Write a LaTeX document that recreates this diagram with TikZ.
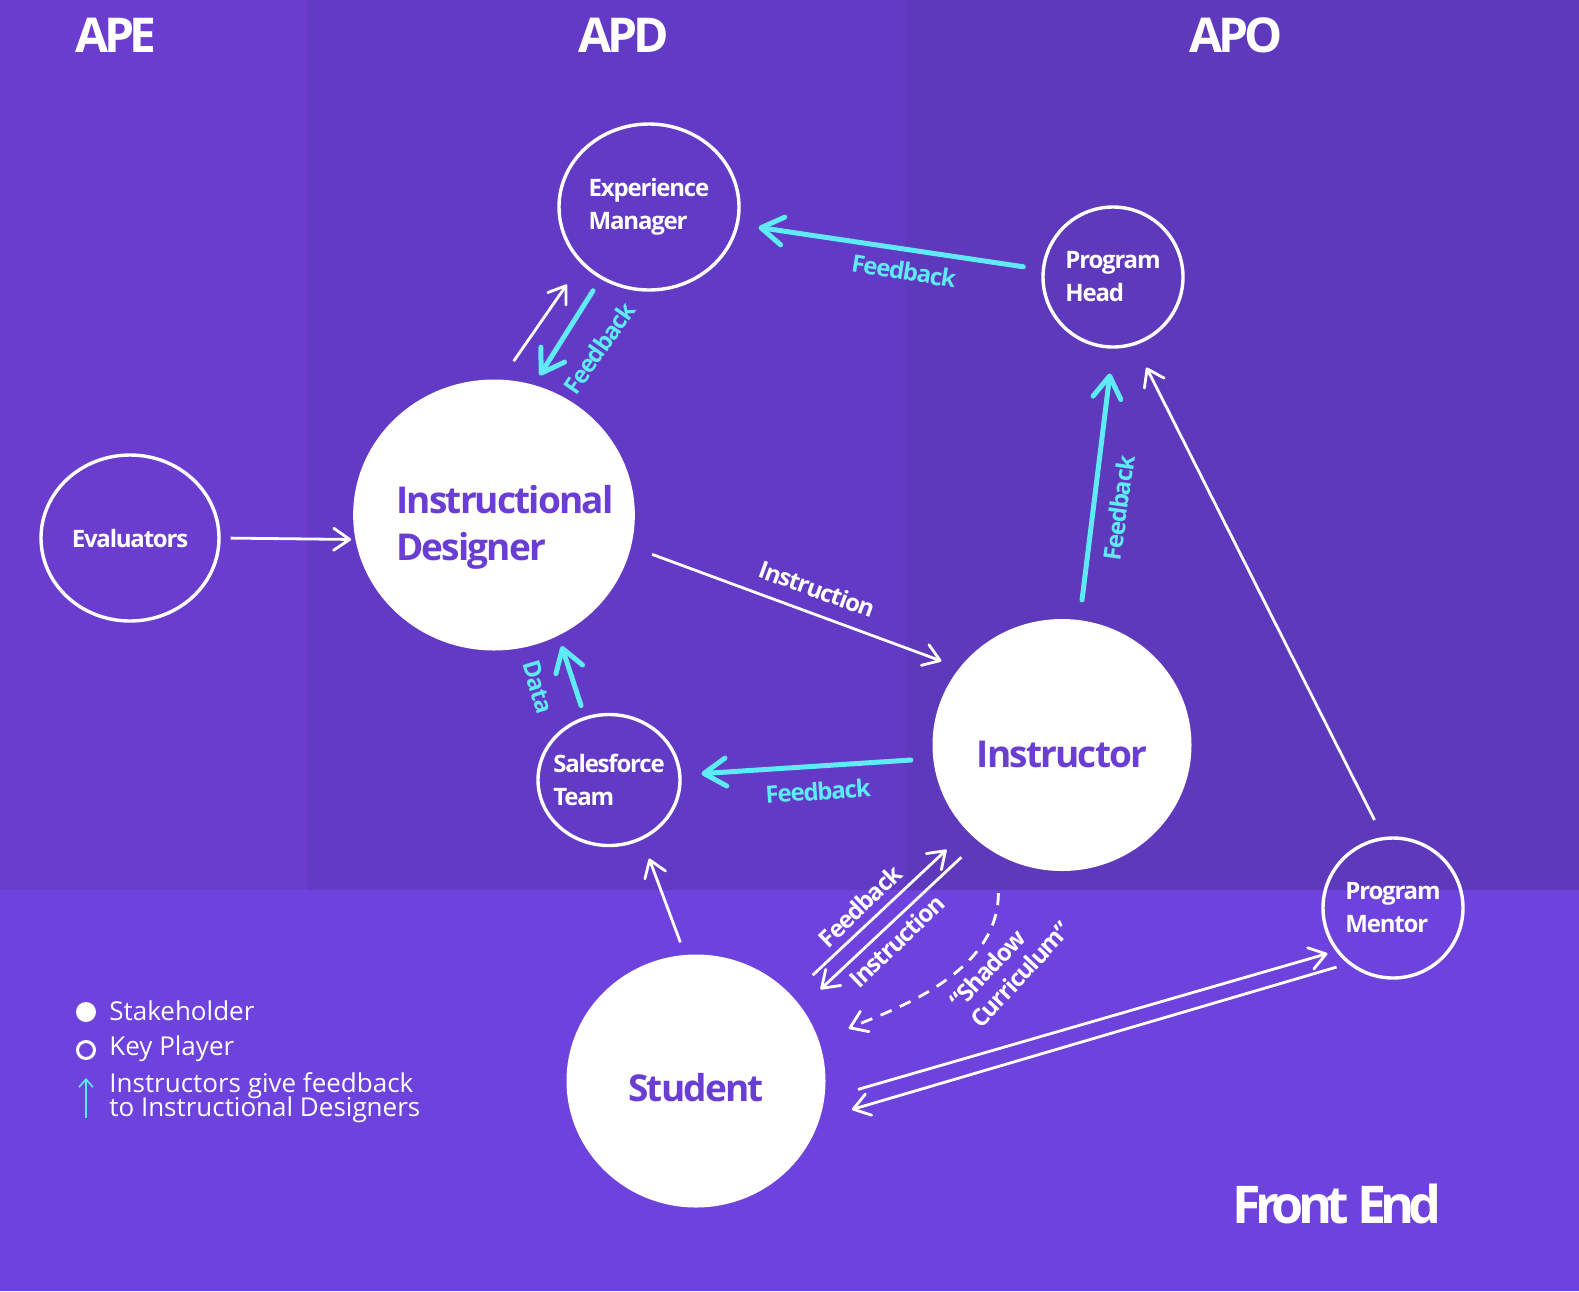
\documentclass[tikz,border=0pt]{standalone}
\usepackage{fontspec}
\setmainfont{Open Sans}
\newfontfamily\tightfont[LetterSpace=-5]{Open Sans}
\newfontfamily\headfont[LetterSpace=-9]{Open Sans}
\newfontfamily\frontfont[LetterSpace=-11]{Open Sans}
\usetikzlibrary{arrows.meta,shapes.geometric}
\definecolor{apeBg}{RGB}{106,61,206}
\definecolor{apdBg}{RGB}{99,58,197}
\definecolor{apoBg}{RGB}{94,57,188}
\definecolor{frontBg}{RGB}{110,66,220}
\definecolor{fbCyan}{RGB}{94,234,247}
\definecolor{nodeInk}{RGB}{106,62,211}
\begin{document}
\begin{tikzpicture}[>={Straight Barb[length=8pt,width=11pt,round]},x=0.5pt,y=-0.5pt,
	stake/.style={ellipse,fill=white,text=nodeInk,inner sep=0pt,inner xsep=-10pt,align=left,font=\tightfont\bfseries\fontsize{18.5}{23.5}\selectfont},
	player/.style={ellipse,draw=white,line width=1.7pt,text=white,inner sep=0pt,inner xsep=-10pt,align=left,font=\tightfont\bfseries\fontsize{12}{16.5}\selectfont},
	head/.style={text=white,font=\headfont\bfseries\fontsize{24}{28}\selectfont},
	wlink/.style={->,draw=white,line width=1.4pt},
	clink/.style={-{Straight Barb[length=11pt,width=14pt,round]},draw=fbCyan,line width=2.5pt,line cap=round},
	clab/.style={text=fbCyan,font=\tightfont\bfseries\fontsize{12}{14}\selectfont},
	wlab/.style={text=white,font=\tightfont\bfseries\fontsize{12}{14}\selectfont},
	legtext/.style={text=white,anchor=west,align=left,inner sep=0pt,font=\fontsize{13}{12}\selectfont\setlength{\lineskiplimit}{-5pt}}]
	\useasboundingbox (0,0) rectangle (1579,1291);
	% columns and front end band
	\fill[apeBg] (0,0) rectangle (307,890);
	\fill[apdBg] (307,0) rectangle (905,890);
	\fill[apoBg] (905,0) rectangle (1579,890);
	\fill[frontBg] (0,890) rectangle (1579,1291);
	\node[head] (ape) at (116,35) {APE};
	\node[head] (apd) at (624,35) {APD};
	\node[head] (apo) at (1236,35) {APO};
	\node[head,font=\frontfont\bfseries\fontsize{26}{30}\selectfont] (front) at (1337,1204) {Front End};
	% people
	\node[player,minimum width=90pt,minimum height=83pt] (em) at (649,207) {Experience\\Manager};
	\node[player,minimum width=70pt,minimum height=70pt] (ph) at (1113,277) {Program\\Head};
	\node[player,minimum width=89pt,minimum height=83pt] (ev) at (130,538) {Evaluators};
	\node[stake,minimum width=140.5pt,minimum height=135.5pt,text height=50pt,text depth=4.4pt] (id) at (494,515) {\hspace*{11pt}Instructional\\\hspace*{11pt}Designer};
	\node[stake,minimum width=129.5pt,minimum height=126pt,text height=22pt,text depth=0pt] (in) at (1062,745) {Instructor};
	\node[player,minimum width=71pt,minimum height=65.5pt] (sf) at (609,780) {Salesforce\\Team};
	\node[player,minimum width=70pt,minimum height=70pt] (pm) at (1393,908) {Program\\Mentor};
	\node[stake,minimum width=129.5pt,minimum height=126.5pt,text height=20pt,text depth=0pt] (st) at (696,1081) {Student};
	% links
	\draw[wlink,shorten <=5pt,shorten >=2pt] (ev.0) -- (id.190);
	\draw[wlink,shorten <=11pt,shorten >=12.5pt] (id.87) -- (em.220);
	\draw[clink,shorten <=7pt,shorten >=5.5pt] (em.236) -- (id.73);
	\draw[clink,shorten <=9.3pt,shorten >=10pt] (ph.174) -- (em.349);
	\draw[clink,shorten <=10pt,shorten >=12.5pt] (in.82) -- (ph.270);
	\draw[wlink,shorten <=11pt,shorten >=9.5pt] (id.347) -- (in.143);
	\draw[wlink,shorten <=9.5pt,shorten >=12.5pt] (pm.98) -- (ph.288);
	\draw[clink,shorten <=11pt,shorten >=10pt] (in.186) -- (sf.4);
	\draw[clink,shorten <=5.8pt,shorten >=5.3pt] (sf.111) -- (id.298);
	\draw[wlink,shorten <=6.5pt,shorten >=10pt] (st.95) -- (sf.299);
	\draw[wlink,shorten <=14.5pt,shorten >=13.8pt] (st.42) -- (in.222);
	\draw[wlink,shorten <=11.5pt,shorten >=13pt] (in.229) -- (st.35);
	\draw[wlink,dash pattern=on 6pt off 4.5pt,shorten <=19pt,shorten >=16pt] (in.240) .. controls +(0,120) and +(70,-30) .. (st.18);
	\draw[wlink,shorten <=17.4pt,shorten >=4.3pt] (st.352) -- (pm.217);
	\draw[wlink,shorten <=5.9pt,shorten >=16.6pt] (pm.231) -- (st.343);
	% link labels
	\node[clab,rotate=55] (fbEm) at (599,348) {Feedback};
	\node[clab,rotate=-9] (fbPh) at (904,271) {Feedback};
	\node[clab,rotate=82] (fbIn) at (1119,508) {Feedback};
	\node[wlab,rotate=-20] (insId) at (817,589) {Instruction};
	\node[clab,rotate=4] (fbSf) at (818,791) {Feedback};
	\node[clab,rotate=-73] (dataSf) at (538,687) {Data};
	\node[wlab,rotate=44] (fbSt) at (860,906) {Feedback};
	\node[wlab,rotate=44] (insSt) at (897,941) {Instruction};
	\node[wlab,rotate=47,align=left] (shadow) at (1010,965) {“Shadow\\Curriculum”};
	% legend
	\node[circle,fill=white,minimum size=10pt,inner sep=0pt] (legStake) at (86,1012) {};
	\node[circle,draw=white,line width=1.5pt,minimum size=8.5pt,inner sep=0pt] (legPlayer) at (86,1050) {};
	\node[legtext] (txtStake) at (109,1011) {Stakeholder};
	\node[legtext] (txtPlayer) at (109,1049) {Key Player};
	\node[legtext] (txtFb) at (109,1098) {Instructors give feedback\\to Instructional Designers};
	\coordinate (legFrom) at (86,1118);
	\coordinate (legTo) at (86,1078);
	\draw[-{Straight Barb[length=4pt,width=7pt]},fbCyan,line width=0.8pt] (legFrom) -- (legTo);
\end{tikzpicture}
\end{document}
